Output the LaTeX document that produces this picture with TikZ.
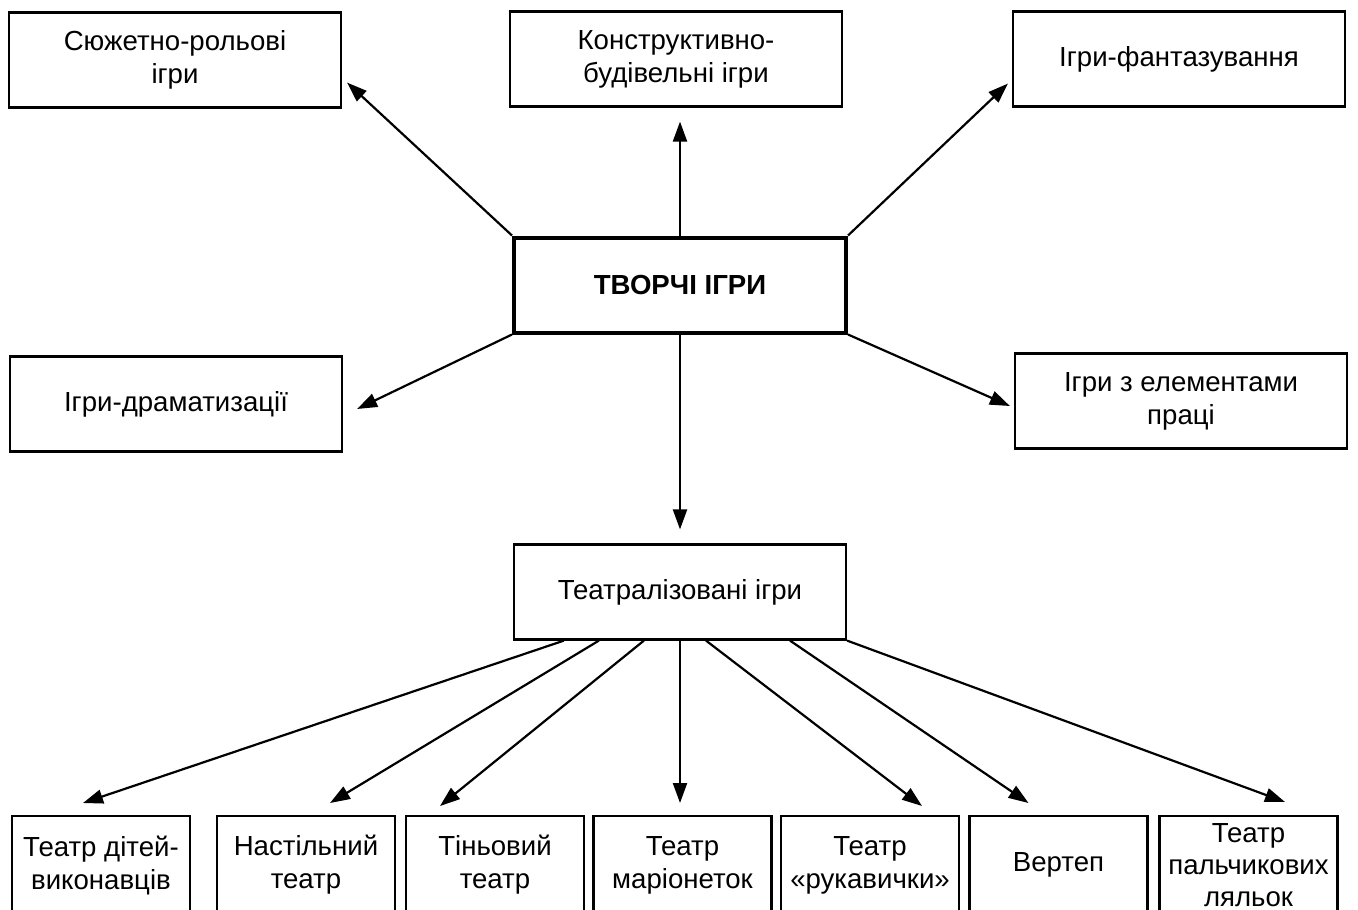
\documentclass[tikz,border=0pt]{standalone}
\usepackage{fontspec}
\setmainfont{Liberation Sans}
\usetikzlibrary{calc}
\usetikzlibrary{shapes}
\usetikzlibrary{arrows.meta}

\begin{document}
\begin{tikzpicture}[x=0.5pt, y=-0.5pt,
 box/.style={draw, line width=1.1pt, align=center, inner sep=0pt,
  font=\fontsize{13.8}{16.5}\selectfont},
 wide/.style={box, minimum width=166pt, minimum height=47.5pt},
 small/.style={box, anchor=north, minimum width=89pt, minimum height=49pt},
 arr/.style={-{Triangle[length=10pt,width=7pt]}, line width=1.1pt}]
 \useasboundingbox (0,0) rectangle (1358,909);
 \clip (0,0) rectangle (1358,909);

 % upper level
 \node[wide] (srg)  at (175,60)    {Сюжетно-рольові\\ігри};
 \node[wide] (kbg)  at (676,59)    {Конструктивно-\\будівельні ігри};
 \node[wide] (fant) at (1179,59)   {Ігри-фантазування};
 \node[wide, line width=2pt, font=\fontsize{13.8}{16.5}\selectfont\bfseries]
             (tvi)  at (680,285)   {ТВОРЧІ ІГРИ};
 \node[wide] (dram) at (176,404)   {Ігри-драматизації};
 \node[wide] (prac) at (1181,401)  {Ігри з елементами\\праці};
 \node[wide] (teat) at (680,592)   {Театралізовані ігри};

 % lower level
 \node[small] (t1) at (101,815)    {Театр дітей-\\виконавців};
 \node[small] (t2) at (306,815)    {Настільний\\театр};
 \node[small] (t3) at (495,815)    {Тіньовий\\театр};
 \node[small] (t4) at (682.5,815)  {Театр\\маріонеток};
 \node[small] (t5) at (870,815)    {Театр\\«рукавички»};
 \node[small] (t6) at (1058.5,815) {Вертеп};
 \node[small, font=\fontsize{13.8}{15.8}\selectfont]
              (t7) at (1248.5,815) {Театр\\пальчикових\\ляльок};

 % arrows from the centre
 \draw[arr] (tvi.north west) -- ($(srg.south east)+(5,-26)$);
 \draw[arr] (tvi.north) -- ($(kbg.south)+(4,14)$);
 \draw[arr] (tvi.north east) -- ($(fant.south west)+(-4,-24)$);
 \draw[arr] (tvi.south west) -- ($(dram.east)+(14,5)$);
 \draw[arr] (tvi.south east) -- ($(prac.west)+(-4,5)$);
 \draw[arr] (tvi.south) -- ($(teat.north)+(0,-14)$);

 % arrows to the theatres
 \draw[arr] ($(teat.south west)+(51,0)$) -- ($(t1.north)+(-18,-12)$);
 \draw[arr] ($(teat.south west)+(86,0)$) -- ($(t2.north)+(24,-12)$);
 \draw[arr] ($(teat.south west)+(131,0)$) -- ($(t3.north)+(-55,-9)$);
 \draw[arr] (teat.south) -- ($(t4.north)+(-2.5,-12)$);
 \draw[arr] ($(teat.south)+(26,0)$) -- ($(t5.north)+(52,-9)$);
 \draw[arr] ($(teat.south)+(110,0)$) -- ($(t6.north)+(-30,-12)$);
 \draw[arr] (teat.south east) -- ($(t7.north)+(36.5,-13)$);
\end{tikzpicture}
\end{document}
